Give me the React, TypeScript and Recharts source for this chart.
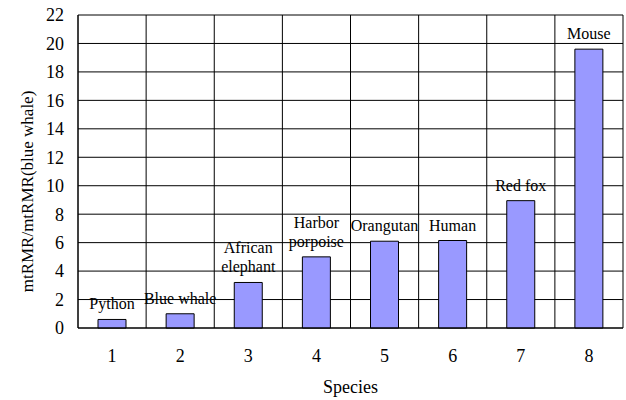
import React from 'react';
import { BarChart, Bar, XAxis, YAxis, CartesianGrid, LabelList, Label } from 'recharts';

const speciesIndex = ['1', '2', '3', '4', '5', '6', '7', '8'];
const speciesNames = ['Python', 'Blue whale', 'African\nelephant', 'Harbor\nporpoise', 'Orangutan', 'Human', 'Red fox', 'Mouse'];
const ratioValues = [0.6, 1.0, 3.2, 5.0, 6.1, 6.15, 8.95, 19.6];
const yTicks = [0, 2, 4, 6, 8, 10, 12, 14, 16, 18, 20, 22];

const data = speciesIndex.map((s, i) => ({ idx: s, name: speciesNames[i], value: ratioValues[i] }));

const FONT = '"Liberation Serif", "Times New Roman", serif';

const renderBarLabel = (props: any) => {
  const { x, y, width, value } = props;
  const lines = String(value).split('\n');
  const cx = Number(x) + Number(width) / 2;
  const lh = 19;
  return (
    <text x={cx} y={Number(y) - 10} textAnchor="middle" fontSize={16} fontFamily={FONT} fill="#000">
      {lines.map((l, i) => (
        <tspan key={i} x={cx} dy={i === 0 ? -(lines.length - 1) * lh : lh}>
          {l}
        </tspan>
      ))}
    </text>
  );
};

const renderYTitle = (props: any) => {
  const vb = props.viewBox;
  const cx = vb.x + 27;
  const cy = vb.y + vb.height / 2 + 20;
  return (
    <text
      x={cx}
      y={cy}
      dy="0.35em"
      transform={`rotate(-90, ${cx}, ${cy})`}
      textAnchor="middle"
      fontSize={17}
      fontFamily={FONT}
      fill="#000"
    >
      mtRMR/mtRMR(blue whale)
    </text>
  );
};

const renderXTitle = (props: any) => {
  const vb = props.viewBox;
  return (
    <text x={vb.x + vb.width / 2} y={vb.y + 65} textAnchor="middle" fontSize={18} fontFamily={FONT} fill="#000">
      Species
    </text>
  );
};

export default function App() {
  return (
    <div style={{ position: 'absolute', left: 0, top: 0, width: 626, height: 400, background: '#fff' }}>
      <BarChart width={626} height={400} data={data} margin={{ top: 15, right: 3, bottom: 0, left: 0 }}>
        <CartesianGrid
          stroke="#000"
          strokeWidth={1}
          verticalCoordinatesGenerator={({ offset }: any) => {
            const n = speciesIndex.length;
            const pts: number[] = [];
            for (let i = 0; i <= n; i++) pts.push(offset.left + (i * offset.width) / n);
            return pts;
          }}
        />
        <XAxis
          dataKey="idx"
          height={72}
          tickLine={false}
          tickSize={0}
          tickMargin={21}
          axisLine={{ stroke: '#000' }}
          tick={{ fontSize: 18, fontFamily: FONT, fill: '#000' }}
        >
          <Label content={renderXTitle} />
        </XAxis>
        <YAxis
          width={78}
          domain={[0, 22]}
          ticks={yTicks}
          interval={0}
          tickLine={false}
          tickSize={0}
          tickMargin={14}
          axisLine={{ stroke: '#000' }}
          tick={{ fontSize: 18, fontFamily: FONT, fill: '#000' }}
        >
          <Label content={renderYTitle} />
        </YAxis>
        <Bar dataKey="value" fill="#9999FF" stroke="#000" strokeWidth={1} barSize={28} isAnimationActive={false}>
          <LabelList dataKey="name" content={renderBarLabel} />
        </Bar>
      </BarChart>
    </div>
  );
}
